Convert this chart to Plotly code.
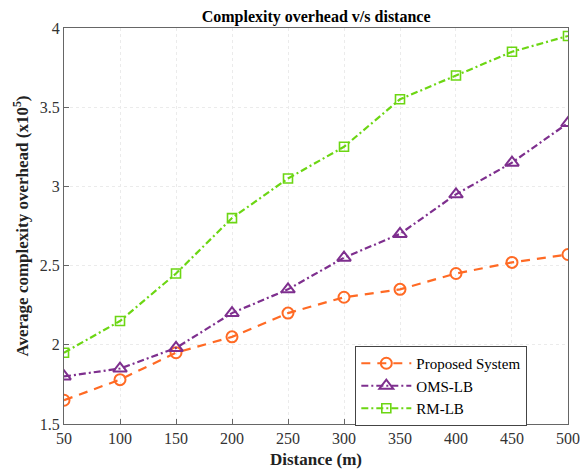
import plotly.graph_objects as go

distance = [50, 100, 150, 200, 250, 300, 350, 400, 450, 500]
proposed = [1.65, 1.78, 1.95, 2.05, 2.20, 2.30, 2.35, 2.45, 2.52, 2.57]
oms_lb = [1.80, 1.85, 1.98, 2.20, 2.35, 2.55, 2.70, 2.95, 3.15, 3.40]
rm_lb = [1.95, 2.15, 2.45, 2.80, 3.05, 3.25, 3.55, 3.70, 3.85, 3.95]
x_ticks = [50, 100, 150, 200, 250, 300, 350, 400, 450, 500]
y_ticks = [1.5, 2, 2.5, 3, 3.5, 4]
y_tick_text = ["1.5", "2", "2.5", "3", "3.5", "4"]

font = "Liberation Serif"

fig = go.Figure()
fig.add_trace(go.Scatter(
    x=distance, y=proposed, name="Proposed System", mode="lines+markers",
    line=dict(color="#FF6A24", width=2.2, dash="9px,7px"),
    marker=dict(symbol="circle-open", size=11, color="#FF6A24", line=dict(width=2))))
fig.add_trace(go.Scatter(
    x=distance, y=oms_lb, name="OMS-LB", mode="lines+markers",
    line=dict(color="#7E2F8E", width=2.2, dash="7px,3px,2px,3px"),
    marker=dict(symbol="triangle-up-open", size=12, color="#7E2F8E", line=dict(width=2))))
fig.add_trace(go.Scatter(
    x=distance, y=rm_lb, name="RM-LB", mode="lines+markers",
    line=dict(color="#6CD613", width=2.2, dash="7px,3px,2px,3px"),
    marker=dict(symbol="square-open", size=9, color="#6CD613", line=dict(width=1.6))))

axis_common = dict(
    showline=True, linecolor="#666666", linewidth=1, mirror=True,
    ticks="inside", ticklen=5, tickcolor="#666666",
    showgrid=True, gridcolor="#EBEBEB", griddash="3px,3px", gridwidth=1,
    zeroline=False, ticklabeloverflow="allow", automargin=False,
    tickfont=dict(family=font, size=16, color="#333333"),
)

fig.update_layout(
    width=580, height=472,
    margin=dict(l=64, r=12, t=28, b=48),
    paper_bgcolor="white", plot_bgcolor="white",
    title=dict(text="<b>Complexity overhead v/s distance</b>",
               font=dict(family=font, size=16, color="black"),
               x=0.545, xanchor="center", y=0.978, yanchor="top"),
    xaxis=dict(range=[49.99, 500.01], tickvals=x_ticks,
               title=dict(text="<b>Distance (m)</b>", font=dict(family=font, size=17, color="#222222"),
                          standoff=6),
               **axis_common),
    yaxis=dict(range=[1.4999, 4.0001], tickvals=y_ticks, ticktext=y_tick_text,
               title=dict(text="<b>Average complexity overhead (x10<sup>5</sup>)</b>",
                          font=dict(family=font, size=17, color="#222222"), standoff=6),
               **axis_common),
    legend=dict(x=0.578, y=0.197, xanchor="left", yanchor="top",
                bgcolor="white", bordercolor="#444444", borderwidth=1,
                font=dict(family=font, size=15, color="black"),
                tracegroupgap=0, itemwidth=50),
    showlegend=True,
)

fig.write_html("out.html")
